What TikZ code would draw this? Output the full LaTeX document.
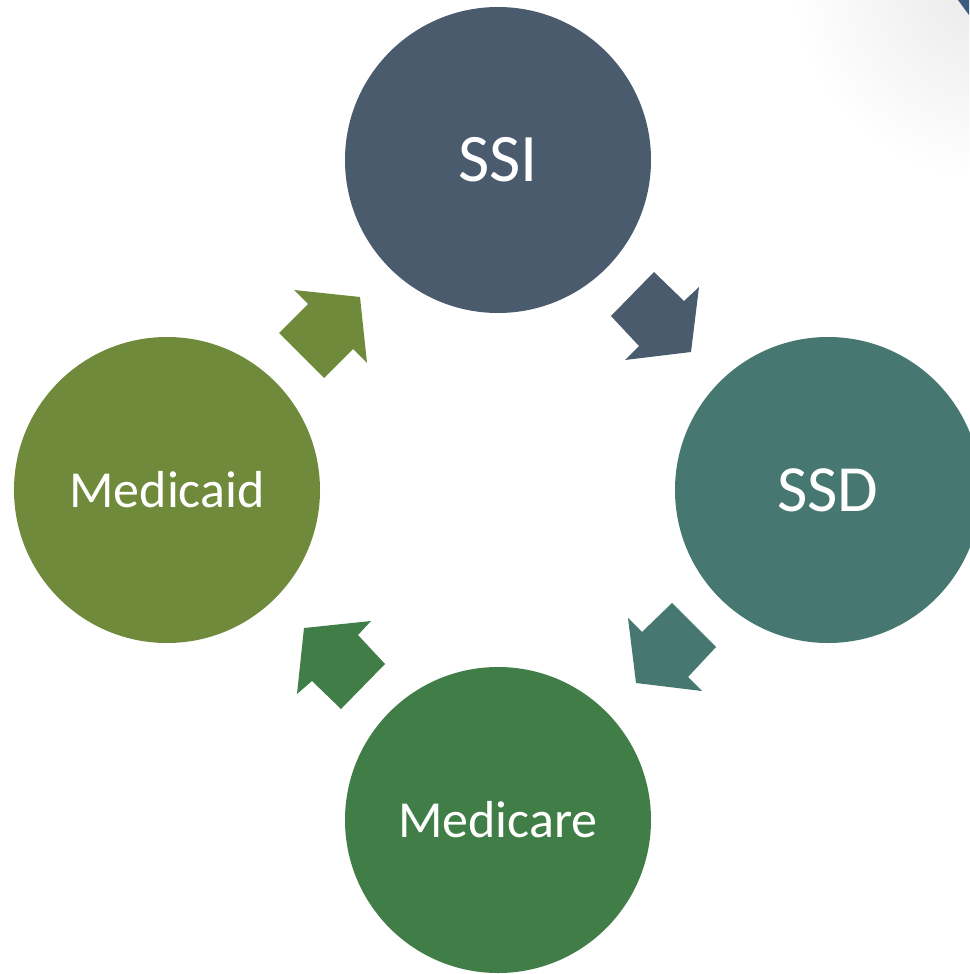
\documentclass[tikz,border=0pt]{standalone}
\usepackage{fontspec}
\setmainfont{Carlito}
\usetikzlibrary{shadings}
\definecolor{cSSI}{HTML}{4A5B6D}
\definecolor{cSSD}{HTML}{467771}
\definecolor{cMcare}{HTML}{417E47}
\definecolor{cMcaid}{HTML}{6F8A3B}
\definecolor{cCorner}{HTML}{3C5A80}
\tikzset{
  bubble/.style={circle, minimum size=306pt, inner sep=0pt, text=white},
  blockarrow/.style={draw=none}
}
\begin{document}
\begin{tikzpicture}[x=1pt,y=-1pt]
\useasboundingbox (0,0) rectangle (969,974);
\fill[white] (0,0) rectangle (969,974);
% corner shadow
\begin{scope}
\clip (0,0) rectangle (969,974);
\shade[inner color=black!9, outer color=white] (990,-20) circle (200);
\fill[cCorner] (958,0) -- (969,0) -- (969,15) -- cycle;
\end{scope}
% circles
\node[bubble, fill=cSSI, font=\fontsize{68}{80}\selectfont] (ssi) at (498,160) {SSI};
\node[bubble, fill=cSSD, font=\fontsize{66}{78}\selectfont] (ssd) at (828,490) {SSD};
\node[bubble, fill=cMcare, font=\fontsize{52}{62}\selectfont] (mcare) at (498,820) {Medicare};
\node[bubble, fill=cMcaid, font=\fontsize{52}{62}\selectfont] (mcaid) at (167,490) {Medicaid};
% arrows
\fill[blockarrow, cSSI] (654,272) -- (684,301) -- (699,287) -- (691,352) -- (625,360) -- (639,346) -- (611,316) -- cycle;
\fill[blockarrow, cSSD] (672,603) -- (716,647) -- (688,677) -- (702,691) -- (636,683) -- (628,618) -- (642,632) -- cycle;
\fill[blockarrow, cMcare] (371,621) -- (358,635) -- (385,664) -- (341,709) -- (312,681) -- (297,694) -- (304,628) -- cycle;
\fill[blockarrow, cMcaid] (294,290) -- (360,297) -- (367,363) -- (353,349) -- (324,378) -- (279,333) -- (308,304) -- cycle;
\end{tikzpicture}
\end{document}
